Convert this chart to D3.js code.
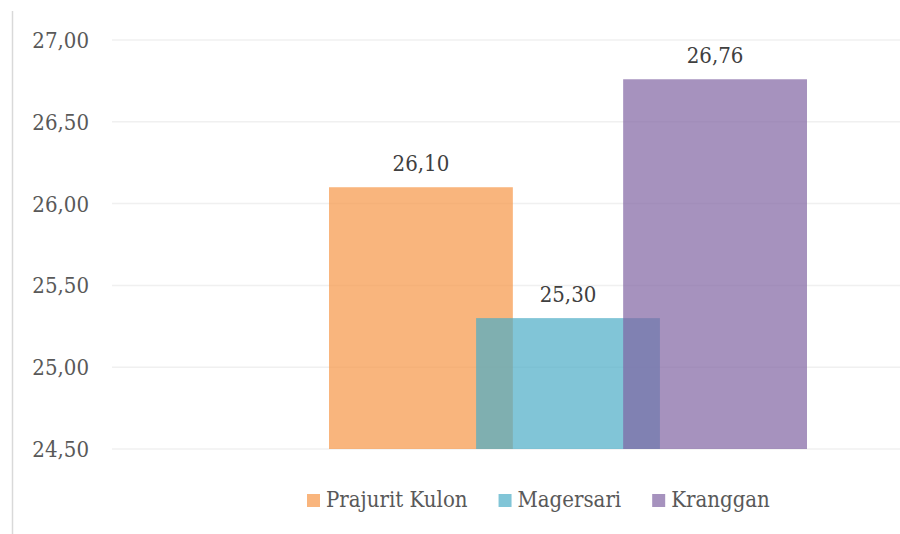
<!DOCTYPE html>
<html>
<head>
<meta charset="utf-8">
<script src="https://cdn.jsdelivr.net/npm/d3@7"></script>
<style>
  body { margin: 0; background: #fff; }
  svg text { font-family: "DejaVu Serif Condensed", "DejaVu Serif", serif; font-stretch: condensed; }
</style>
</head>
<body>
<svg id="chart" width="900" height="534"></svg>
<script>
// data
const categories = ['Kelurahan'];
const seriesNames = ['Prajurit Kulon', 'Magersari', 'Kranggan'];
const seriesValues = [26.10, 25.30, 26.76];
const seriesColors = ['#F79646', '#4BACC6', '#8064A2'];
const yTicks = [24.5, 25.0, 25.5, 26.0, 26.5, 27.0];

const svg = d3.select('#chart');
const fmt = d => d.toFixed(2).replace('.', ',');

// plot area runs past the right edge like the original
const x0 = d3.scaleBand()
  .domain(categories)
  .range([112, 1024])
  .paddingInner(0)
  .paddingOuter(0.454);

const y = d3.scaleLinear()
  .domain([24.5, 27])
  .range([449, 40]);

// bars overlap by 20%
const barW = x0.bandwidth() / 2.6;
const x1 = d3.scaleLinear()
  .domain([0, 1])
  .range([x0(categories[0]), x0(categories[0]) + barW * 0.8]);

// left border
svg.append('line')
  .attr('x1', 12.5).attr('x2', 12.5)
  .attr('y1', 11).attr('y2', 534)
  .attr('stroke', '#d9d9d9')
  .attr('stroke-width', 1.5);

// gridlines
svg.append('g')
  .selectAll('line')
  .data(yTicks)
  .join('line')
  .attr('x1', 112).attr('x2', 900)
  .attr('y1', d => y(d)).attr('y2', d => y(d))
  .attr('stroke', '#f0f0f0')
  .attr('stroke-width', 1.5);

// y axis labels
svg.append('g')
  .selectAll('text')
  .data(yTicks)
  .join('text')
  .attr('x', 89)
  .attr('y', d => y(d) + 8)
  .attr('text-anchor', 'end')
  .attr('fill', '#595959')
  .attr('font-size', 22)
  .text(fmt);

// bars
const bars = seriesValues.map((v, i) => ({ name: seriesNames[i], value: v, color: seriesColors[i], i }));

svg.append('g')
  .selectAll('rect')
  .data(bars)
  .join('rect')
  .attr('x', d => x1(d.i))
  .attr('y', d => y(d.value))
  .attr('width', barW)
  .attr('height', d => y(24.5) - y(d.value))
  .attr('fill', d => d.color)
  .attr('fill-opacity', 0.7);

// value labels
svg.append('g')
  .selectAll('text')
  .data(bars)
  .join('text')
  .attr('x', d => x1(d.i) + barW / 2)
  .attr('y', d => y(d.value) - 16)
  .attr('text-anchor', 'middle')
  .attr('fill', '#404040')
  .attr('font-size', 22)
  .text(d => fmt(d.value));

// legend
const legend = svg.append('g');
let lx = 307;
bars.forEach((d) => {
  legend.append('rect')
    .attr('x', lx).attr('y', 494)
    .attr('width', 13).attr('height', 13)
    .attr('fill', d.color)
    .attr('fill-opacity', 0.7);
  const t = legend.append('text')
    .attr('x', lx + 19)
    .attr('y', 507)
    .attr('fill', '#595959')
    .attr('font-size', 22)
    .text(d.name);
  lx += 19 + t.node().getComputedTextLength() + 31;
});
</script>
</body>
</html>
